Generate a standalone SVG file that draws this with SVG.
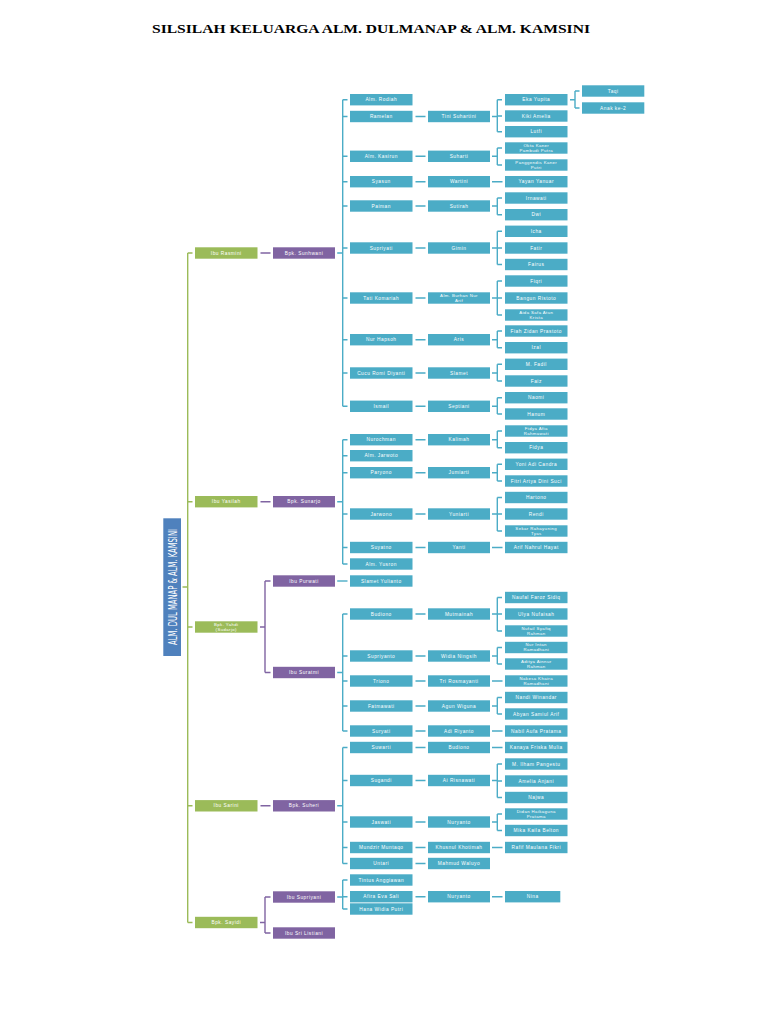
<svg xmlns="http://www.w3.org/2000/svg" width="768" height="1024" viewBox="0 0 768 1024">
<style>
.g rect{fill:#9bbb59}
.p rect{fill:#8064a2}
.b rect{fill:#4bacc6}
.nodes text{font-family:"Liberation Sans",Arial,sans-serif;font-size:4.8px;fill:#fff;text-anchor:middle;letter-spacing:.5px}
.nodes text.s{font-size:4.3px;letter-spacing:.4px}
.lg{stroke:#9bbb59;stroke-width:1.4;fill:none}
.lp{stroke:#8064a2;stroke-width:1.4;fill:none}
.lb{stroke:#4bacc6;stroke-width:1.4;fill:none}
.title{font-family:"Liberation Serif","Times New Roman",serif;font-weight:bold;font-size:13px;fill:#000;text-anchor:middle}
.nodes text.root{font-family:"Liberation Sans Narrow","DejaVu Sans Condensed","Liberation Sans",sans-serif;font-size:12.5px;fill:#fff;text-anchor:middle;letter-spacing:0}
</style>
<rect width="768" height="1024" fill="#fff"/>
<text class="title" x="371" y="33" textLength="438" lengthAdjust="spacingAndGlyphs">SILSILAH KELUARGA ALM. DULMANAP &amp; ALM. KAMSINI</text>

<g id="connectors">
<path class="lg" d="M187.7,253V922.5M187.7,253H192.5M187.7,501.7H192.5M187.7,627H192.5M187.7,805.8H192.5M187.7,922.5H192.5M182.5,587H187.7"/>
<path class="lp" d="M260.5,253H270.5M260.5,501.7H270.5M260,627H265M265,581V672.5M265,581H270.5M265,672.5H270.5M260.5,805.8H270.5M260,922.5H265M265,897V933M265,897H270.5M265,933H270.5"/>
<path class="lb" d="M337.2,253H342.7M342.7,99.7V406.3M342.7,99.7H347.5M342.7,116.5H347.5M342.7,156.3H347.5M342.7,181.7H347.5M342.7,206H347.5M342.7,248H347.5M342.7,298H347.5M342.7,339.7H347.5M342.7,373H347.5M342.7,406.3H347.5"/>
<path class="lb" d="M337.2,501.7H342.7M342.7,439.7V564M342.7,439.7H347.5M342.7,455.7H347.5M342.7,472.7H347.5M342.7,514H347.5M342.7,547.5H347.5M342.7,564H347.5"/>
<path class="lb" d="M337.2,581H347.5"/>
<path class="lb" d="M337.2,672.5H342.7M342.7,614V731M342.7,614H347.5M342.7,656H347.5M342.7,681H347.5M342.7,706H347.5M342.7,731H347.5"/>
<path class="lb" d="M337.2,805.8H342.7M342.7,747.5V863.5M342.7,747.5H347.5M342.7,780.5H347.5M342.7,822H347.5M342.7,847.5H347.5M342.7,863.5H347.5"/>
<path class="lb" d="M337.2,897H342.7M342.7,880V909M342.7,880H347.5M342.7,896.7H347.5M342.7,909H347.5"/>
<path class="lb" d="M415.5,116.5H425.5M415.5,156.3H425.5M415.5,181.7H425.5M415.5,206H425.5M415.5,248H425.5M415.5,298H425.5M415.5,339.7H425.5M415.5,373H425.5M415.5,406.3H425.5M415.5,439.7H425.5M415.5,472.7H425.5M415.5,514H425.5M415.5,547.5H425.5M415.5,614H425.5M415.5,656H425.5M415.5,681H425.5M415.5,706H425.5M415.5,731H425.5M415.5,747.5H425.5M415.5,780.5H425.5M415.5,822H425.5M415.5,847.5H425.5M415.5,863.5H425.5M415.5,896.7H425.5"/>
<path class="lb" d="M492,181.7H502.5M492,547.5H502.5M492,681H502.5M492,731H502.5M492,747.5H502.5M492,847.5H502.5M492,896.7H502.5"/>
<path class="lb" d="M492,116.5H497.3M497.3,99.7V131.7M497.3,99.7H502M497.3,116H502M497.3,131.7H502
M492,156.3H497.3M497.3,148V165M497.3,148H502M497.3,165H502
M492,206H497.3M497.3,198V214.7M497.3,198H502M497.3,214.7H502
M492,248H497.3M497.3,231.3V264.5M497.3,231.3H502M497.3,248H502M497.3,264.5H502
M492,298H497.3M497.3,281V315M497.3,281H502M497.3,298H502M497.3,315H502
M492,339.7H497.3M497.3,331V347.7M497.3,331H502M497.3,347.7H502
M492,373H497.3M497.3,364.3V381M497.3,364.3H502M497.3,381H502
M492,406.3H497.3M497.3,397.7V414M497.3,397.7H502M497.3,414H502
M492,439.7H497.3M497.3,431V447.7M497.3,431H502M497.3,447.7H502
M492,472.7H497.3M497.3,464.3V481M497.3,464.3H502M497.3,481H502
M492,514H497.3M497.3,497.5V531M497.3,497.5H502M497.3,514H502M497.3,531H502
M492,614H497.3M497.3,597.5V631M497.3,597.5H502M497.3,614H502M497.3,631H502
M492,656H497.3M497.3,647.5V664M497.3,647.5H502M497.3,664H502
M492,706H497.3M497.3,697.5V714M497.3,697.5H502M497.3,714H502
M492,780.5H497.3M497.3,764V797.5M497.3,764H502M497.3,781H502M497.3,797.5H502
M492,822H497.3M497.3,814V830.5M497.3,814H502M497.3,830.5H502"/>
<path class="lb" d="M570,99.7H575M575,91V108M575,91H579.5M575,108H579.5"/>
</g>

<g class="nodes">
<g id="root"><rect x="163.3" y="518.3" width="17.7" height="137.7" fill="#4f81bd"/><text class="root" transform="translate(172.2,587) rotate(-90)" x="0" y="4.5" textLength="116" lengthAdjust="spacingAndGlyphs">ALM. DUL MANAP &amp; ALM. KAMSINI</text></g>

<g id="ibu-rasmini" class="g"><rect x="195" y="247.3" width="62.5" height="11.4"/><text x="226.25" y="254.6">Ibu Rasmini</text></g>
<g id="ibu-yasilah" class="g"><rect x="195" y="496" width="62.5" height="11.4"/><text x="226.25" y="503.3">Ibu Yasilah</text></g>
<g id="bpk-yahdi" class="g"><rect x="195" y="621.3" width="62.5" height="11.4"/><text class="s" x="226.25" y="625.5">Bpk. Yahdi</text><text class="s" x="226.25" y="630.7">(Sudarjo)</text></g>
<g id="ibu-sarini" class="g"><rect x="195" y="800.1" width="62.5" height="11.4"/><text x="226.25" y="807.4">Ibu Sarini</text></g>
<g id="bpk-sayidi" class="g"><rect x="195" y="916.8" width="62.5" height="11.4"/><text x="226.25" y="924.1">Bpk. Sayidi</text></g>

<g id="bpk-sunhwani" class="p"><rect x="273" y="247.3" width="62" height="11.4"/><text x="304" y="254.6">Bpk. Sunhwani</text></g>
<g id="bpk-sunarjo" class="p"><rect x="273" y="496" width="62" height="11.4"/><text x="304" y="503.3">Bpk. Sunarjo</text></g>
<g id="ibu-purwati" class="p"><rect x="273" y="575.3" width="62" height="11.4"/><text x="304" y="582.6">Ibu Purwati</text></g>
<g id="ibu-suratmi" class="p"><rect x="273" y="666.8" width="62" height="11.4"/><text x="304" y="674.1">Ibu Suratmi</text></g>
<g id="bpk-suheri" class="p"><rect x="273" y="800.1" width="62" height="11.4"/><text x="304" y="807.4">Bpk. Suheri</text></g>
<g id="ibu-supriyani" class="p"><rect x="273" y="891.3" width="62" height="11.4"/><text x="304" y="898.6">Ibu Supriyani</text></g>
<g id="ibu-sri-listiani" class="p"><rect x="273" y="927.3" width="62" height="11.4"/><text x="304" y="934.6">Ibu Sri Listiani</text></g>

<g id="c3-rodiah" class="b"><rect x="350" y="94" width="62.5" height="11.4"/><text x="381.25" y="101.3">Alm. Rodiah</text></g>
<g id="c3-ramelan" class="b"><rect x="350" y="110.8" width="62.5" height="11.4"/><text x="381.25" y="118.1">Ramelan</text></g>
<g id="c3-kasirun" class="b"><rect x="350" y="150.6" width="62.5" height="11.4"/><text x="381.25" y="157.9">Alm. Kasirun</text></g>
<g id="c3-syasun" class="b"><rect x="350" y="176" width="62.5" height="11.4"/><text x="381.25" y="183.3">Syasun</text></g>
<g id="c3-paiman" class="b"><rect x="350" y="200.3" width="62.5" height="11.4"/><text x="381.25" y="207.6">Paiman</text></g>
<g id="c3-supriyati" class="b"><rect x="350" y="242.3" width="62.5" height="11.4"/><text x="381.25" y="249.6">Supriyati</text></g>
<g id="c3-tati" class="b"><rect x="350" y="292.3" width="62.5" height="11.4"/><text x="381.25" y="299.6">Tati Komariah</text></g>
<g id="c3-nurhapsoh" class="b"><rect x="350" y="334" width="62.5" height="11.4"/><text x="381.25" y="341.3">Nur Hapsoh</text></g>
<g id="c3-cucu" class="b"><rect x="350" y="367.3" width="62.5" height="11.4"/><text x="381.25" y="374.6">Cucu Romi Diyanti</text></g>
<g id="c3-ismail" class="b"><rect x="350" y="400.6" width="62.5" height="11.4"/><text x="381.25" y="407.9">Ismail</text></g>
<g id="c3-nurochman" class="b"><rect x="350" y="434" width="62.5" height="11.4"/><text x="381.25" y="441.3">Nurochman</text></g>
<g id="c3-jarwoto" class="b"><rect x="350" y="450" width="62.5" height="11.4"/><text x="381.25" y="457.3">Alm. Jarwoto</text></g>
<g id="c3-paryono" class="b"><rect x="350" y="467" width="62.5" height="11.4"/><text x="381.25" y="474.3">Paryono</text></g>
<g id="c3-jarwono" class="b"><rect x="350" y="508.3" width="62.5" height="11.4"/><text x="381.25" y="515.6">Jarwono</text></g>
<g id="c3-suyatno" class="b"><rect x="350" y="541.8" width="62.5" height="11.4"/><text x="381.25" y="549.1">Suyatno</text></g>
<g id="c3-yusron" class="b"><rect x="350" y="558.3" width="62.5" height="11.4"/><text x="381.25" y="565.6">Alm. Yusron</text></g>
<g id="c3-slamet-yulianto" class="b"><rect x="350" y="575.3" width="62.5" height="11.4"/><text x="381.25" y="582.6">Slamet Yulianto</text></g>
<g id="c3-budiono" class="b"><rect x="350" y="608.3" width="62.5" height="11.4"/><text x="381.25" y="615.6">Budiono</text></g>
<g id="c3-supriyanto" class="b"><rect x="350" y="650.3" width="62.5" height="11.4"/><text x="381.25" y="657.6">Supriyanto</text></g>
<g id="c3-triono" class="b"><rect x="350" y="675.3" width="62.5" height="11.4"/><text x="381.25" y="682.6">Triono</text></g>
<g id="c3-fatmawati" class="b"><rect x="350" y="700.3" width="62.5" height="11.4"/><text x="381.25" y="707.6">Fatmawati</text></g>
<g id="c3-suryati" class="b"><rect x="350" y="725.3" width="62.5" height="11.4"/><text x="381.25" y="732.6">Suryati</text></g>
<g id="c3-suwarti" class="b"><rect x="350" y="741.8" width="62.5" height="11.4"/><text x="381.25" y="749.1">Suwarti</text></g>
<g id="c3-sugandi" class="b"><rect x="350" y="774.8" width="62.5" height="11.4"/><text x="381.25" y="782.1">Sugandi</text></g>
<g id="c3-jaswati" class="b"><rect x="350" y="816.3" width="62.5" height="11.4"/><text x="381.25" y="823.6">Jaswati</text></g>
<g id="c3-mundzir" class="b"><rect x="350" y="841.8" width="62.5" height="11.4"/><text x="381.25" y="849.1">Mundzir Muntaqo</text></g>
<g id="c3-untari" class="b"><rect x="350" y="857.8" width="62.5" height="11.4"/><text x="381.25" y="865.1">Untari</text></g>
<g id="c3-tintus" class="b"><rect x="350" y="874.3" width="62.5" height="11.4"/><text x="381.25" y="881.6">Tintus Anggiawan</text></g>
<g id="c3-afira" class="b"><rect x="350" y="891" width="62.5" height="11.4"/><text x="381.25" y="898.3">Afira Eva Sali</text></g>
<g id="c3-hana" class="b"><rect x="350" y="903.3" width="62.5" height="11.4"/><text x="381.25" y="910.6">Hana Widia Putri</text></g>

<g id="c4-tini" class="b"><rect x="428" y="110.8" width="62" height="11.4"/><text x="459" y="118.1">Tini Suhartini</text></g>
<g id="c4-suharti" class="b"><rect x="428" y="150.6" width="62" height="11.4"/><text x="459" y="157.9">Suharti</text></g>
<g id="c4-wartini" class="b"><rect x="428" y="176" width="62" height="11.4"/><text x="459" y="183.3">Wartini</text></g>
<g id="c4-sutirah" class="b"><rect x="428" y="200.3" width="62" height="11.4"/><text x="459" y="207.6">Sutirah</text></g>
<g id="c4-gimin" class="b"><rect x="428" y="242.3" width="62" height="11.4"/><text x="459" y="249.6">Gimin</text></g>
<g id="c4-burhan" class="b"><rect x="428" y="292.3" width="62" height="11.4"/><text class="s" x="459" y="296.5">Alm. Burhan Nur</text><text class="s" x="459" y="301.7">Arif</text></g>
<g id="c4-aris" class="b"><rect x="428" y="334" width="62" height="11.4"/><text x="459" y="341.3">Aris</text></g>
<g id="c4-slamet" class="b"><rect x="428" y="367.3" width="62" height="11.4"/><text x="459" y="374.6">Slamet</text></g>
<g id="c4-septiani" class="b"><rect x="428" y="400.6" width="62" height="11.4"/><text x="459" y="407.9">Septiani</text></g>
<g id="c4-kalimah" class="b"><rect x="428" y="434" width="62" height="11.4"/><text x="459" y="441.3">Kalimah</text></g>
<g id="c4-jumiarti" class="b"><rect x="428" y="467" width="62" height="11.4"/><text x="459" y="474.3">Jumiarti</text></g>
<g id="c4-yuniarti" class="b"><rect x="428" y="508.3" width="62" height="11.4"/><text x="459" y="515.6">Yuniarti</text></g>
<g id="c4-yanti" class="b"><rect x="428" y="541.8" width="62" height="11.4"/><text x="459" y="549.1">Yanti</text></g>
<g id="c4-mutmainah" class="b"><rect x="428" y="608.3" width="62" height="11.4"/><text x="459" y="615.6">Mutmainah</text></g>
<g id="c4-widia" class="b"><rect x="428" y="650.3" width="62" height="11.4"/><text x="459" y="657.6">Widia Ningsih</text></g>
<g id="c4-tri" class="b"><rect x="428" y="675.3" width="62" height="11.4"/><text x="459" y="682.6">Tri Rosmayanti</text></g>
<g id="c4-agun" class="b"><rect x="428" y="700.3" width="62" height="11.4"/><text x="459" y="707.6">Agun Wiguna</text></g>
<g id="c4-adi" class="b"><rect x="428" y="725.3" width="62" height="11.4"/><text x="459" y="732.6">Adi Riyanto</text></g>
<g id="c4-budiono" class="b"><rect x="428" y="741.8" width="62" height="11.4"/><text x="459" y="749.1">Budiono</text></g>
<g id="c4-ai" class="b"><rect x="428" y="774.8" width="62" height="11.4"/><text x="459" y="782.1">Ai Risnawati</text></g>
<g id="c4-nuryanto1" class="b"><rect x="428" y="816.3" width="62" height="11.4"/><text x="459" y="823.6">Nuryanto</text></g>
<g id="c4-khusnul" class="b"><rect x="428" y="841.8" width="62" height="11.4"/><text x="459" y="849.1">Khusnul Khotimah</text></g>
<g id="c4-mahmud" class="b"><rect x="428" y="857.8" width="62" height="11.4"/><text x="459" y="865.1">Mahmud Waluyo</text></g>
<g id="c4-nuryanto2" class="b"><rect x="428" y="891" width="62" height="11.4"/><text x="459" y="898.3">Nuryanto</text></g>

<g id="c5-eka" class="b"><rect x="505" y="94" width="62.5" height="11.4"/><text x="536.25" y="101.3">Eka Yupita</text></g>
<g id="c5-kiki" class="b"><rect x="505" y="110.3" width="62.5" height="11.4"/><text x="536.25" y="117.6">Kiki Amelia</text></g>
<g id="c5-lutfi" class="b"><rect x="505" y="126" width="62.5" height="11.4"/><text x="536.25" y="133.3">Lutfi</text></g>
<g id="c5-okta" class="b"><rect x="505" y="142.3" width="62.5" height="11.4"/><text class="s" x="536.25" y="146.5">Okta Kaner</text><text class="s" x="536.25" y="151.7">Pambudi Putra</text></g>
<g id="c5-panggendis" class="b"><rect x="505" y="159.3" width="62.5" height="11.4"/><text class="s" x="536.25" y="163.5">Panggendis Kaner</text><text class="s" x="536.25" y="168.7">Putri</text></g>
<g id="c5-yayan" class="b"><rect x="505" y="176" width="62.5" height="11.4"/><text x="536.25" y="183.3">Yayan Yanuar</text></g>
<g id="c5-irnawati" class="b"><rect x="505" y="192.3" width="62.5" height="11.4"/><text x="536.25" y="199.6">Irnawati</text></g>
<g id="c5-dwi" class="b"><rect x="505" y="209" width="62.5" height="11.4"/><text x="536.25" y="216.3">Dwi</text></g>
<g id="c5-icha" class="b"><rect x="505" y="225.6" width="62.5" height="11.4"/><text x="536.25" y="232.9">Icha</text></g>
<g id="c5-fatir" class="b"><rect x="505" y="242.3" width="62.5" height="11.4"/><text x="536.25" y="249.6">Fatir</text></g>
<g id="c5-fairus" class="b"><rect x="505" y="258.8" width="62.5" height="11.4"/><text x="536.25" y="266.1">Fairus</text></g>
<g id="c5-fiqri" class="b"><rect x="505" y="275.3" width="62.5" height="11.4"/><text x="536.25" y="282.6">Fiqri</text></g>
<g id="c5-bangun" class="b"><rect x="505" y="292.3" width="62.5" height="11.4"/><text x="536.25" y="299.6">Bangun Ristoto</text></g>
<g id="c5-aida" class="b"><rect x="505" y="309.3" width="62.5" height="11.4"/><text class="s" x="536.25" y="313.5">Aida Safa Atun</text><text class="s" x="536.25" y="318.7">Krista</text></g>
<g id="c5-fiah" class="b"><rect x="505" y="325.3" width="62.5" height="11.4"/><text x="536.25" y="332.6">Fiah Zidan Prastoto</text></g>
<g id="c5-izal" class="b"><rect x="505" y="342" width="62.5" height="11.4"/><text x="536.25" y="349.3">Izal</text></g>
<g id="c5-fadil" class="b"><rect x="505" y="358.6" width="62.5" height="11.4"/><text x="536.25" y="365.9">M. Fadil</text></g>
<g id="c5-faiz" class="b"><rect x="505" y="375.3" width="62.5" height="11.4"/><text x="536.25" y="382.6">Faiz</text></g>
<g id="c5-naomi" class="b"><rect x="505" y="392" width="62.5" height="11.4"/><text x="536.25" y="399.3">Naomi</text></g>
<g id="c5-hanum" class="b"><rect x="505" y="408.3" width="62.5" height="11.4"/><text x="536.25" y="415.6">Hanum</text></g>
<g id="c5-fidya-afia" class="b"><rect x="505" y="425.3" width="62.5" height="11.4"/><text class="s" x="536.25" y="429.5">Fidya Afia</text><text class="s" x="536.25" y="434.7">Rahmawati</text></g>
<g id="c5-fidya" class="b"><rect x="505" y="442" width="62.5" height="11.4"/><text x="536.25" y="449.3">Fidya</text></g>
<g id="c5-yoni" class="b"><rect x="505" y="458.6" width="62.5" height="11.4"/><text x="536.25" y="465.9">Yoni Adi Candra</text></g>
<g id="c5-fitri" class="b"><rect x="505" y="475.3" width="62.5" height="11.4"/><text x="536.25" y="482.6">Fitri Artya Dini Suci</text></g>
<g id="c5-hartono" class="b"><rect x="505" y="491.8" width="62.5" height="11.4"/><text x="536.25" y="499.1">Hartono</text></g>
<g id="c5-rendi" class="b"><rect x="505" y="508.3" width="62.5" height="11.4"/><text x="536.25" y="515.6">Rendi</text></g>
<g id="c5-sekar" class="b"><rect x="505" y="525.3" width="62.5" height="11.4"/><text class="s" x="536.25" y="529.5">Sekar Rahayuning</text><text class="s" x="536.25" y="534.7">Tyas</text></g>
<g id="c5-arif" class="b"><rect x="505" y="541.8" width="62.5" height="11.4"/><text x="536.25" y="549.1">Arif Nahrul Hayat</text></g>
<g id="c5-naufal" class="b"><rect x="505" y="591.8" width="62.5" height="11.4"/><text x="536.25" y="599.1">Naufal Faroz Sidiq</text></g>
<g id="c5-ulya" class="b"><rect x="505" y="608.3" width="62.5" height="11.4"/><text x="536.25" y="615.6">Ulya Nufaisah</text></g>
<g id="c5-nufail" class="b"><rect x="505" y="625.3" width="62.5" height="11.4"/><text class="s" x="536.25" y="629.5">Nufail Syafiq</text><text class="s" x="536.25" y="634.7">Rahman</text></g>
<g id="c5-nurintan" class="b"><rect x="505" y="641.8" width="62.5" height="11.4"/><text class="s" x="536.25" y="646">Nur Intan</text><text class="s" x="536.25" y="651.2">Ramadhani</text></g>
<g id="c5-aditya" class="b"><rect x="505" y="658.3" width="62.5" height="11.4"/><text class="s" x="536.25" y="662.5">Aditya Ainnur</text><text class="s" x="536.25" y="667.7">Rahman</text></g>
<g id="c5-nakesa" class="b"><rect x="505" y="675.3" width="62.5" height="11.4"/><text class="s" x="536.25" y="679.5">Nakesa Khaira</text><text class="s" x="536.25" y="684.7">Ramadhani</text></g>
<g id="c5-nandi" class="b"><rect x="505" y="691.8" width="62.5" height="11.4"/><text x="536.25" y="699.1">Nandi Winandar</text></g>
<g id="c5-abyan" class="b"><rect x="505" y="708.3" width="62.5" height="11.4"/><text x="536.25" y="715.6">Abyan Samiul Arif</text></g>
<g id="c5-nabil" class="b"><rect x="505" y="725.3" width="62.5" height="11.4"/><text x="536.25" y="732.6">Nabil Aufa Pratama</text></g>
<g id="c5-kanaya" class="b"><rect x="505" y="741.8" width="62.5" height="11.4"/><text x="536.25" y="749.1">Kanaya Friska Mulia</text></g>
<g id="c5-ilham" class="b"><rect x="505" y="758.3" width="62.5" height="11.4"/><text x="536.25" y="765.6">M. Ilham Pangestu</text></g>
<g id="c5-amelia" class="b"><rect x="505" y="775.3" width="62.5" height="11.4"/><text x="536.25" y="782.6">Amelia Anjani</text></g>
<g id="c5-najwa" class="b"><rect x="505" y="791.8" width="62.5" height="11.4"/><text x="536.25" y="799.1">Najwa</text></g>
<g id="c5-didan" class="b"><rect x="505" y="808.3" width="62.5" height="11.4"/><text class="s" x="536.25" y="812.5">Didan Haikaguna</text><text class="s" x="536.25" y="817.7">Pratama</text></g>
<g id="c5-mika" class="b"><rect x="505" y="824.8" width="62.5" height="11.4"/><text x="536.25" y="832.1">Mika Kaila Belton</text></g>
<g id="c5-rafif" class="b"><rect x="505" y="841.8" width="62.5" height="11.4"/><text x="536.25" y="849.1">Rafif Maulana Fikri</text></g>
<g id="c5-nina" class="b"><rect x="505" y="891" width="55.3" height="11.4"/><text x="532.65" y="898.3">Nina</text></g>

<g id="c6-taqi" class="b"><rect x="582" y="85.3" width="62.3" height="11.4"/><text x="613.15" y="92.6">Taqi</text></g>
<g id="c6-anak2" class="b"><rect x="582" y="102.3" width="62.3" height="11.4"/><text x="613.15" y="109.6">Anak ke-2</text></g>
</g>
</svg>
